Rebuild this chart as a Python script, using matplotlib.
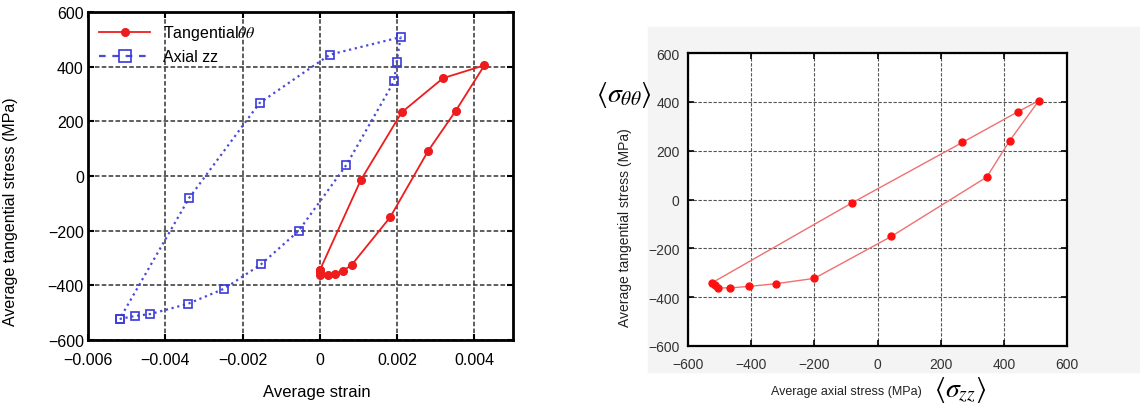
import matplotlib.pyplot as plt
from matplotlib.patches import Rectangle

plt.rcParams['font.family'] = ['Liberation Sans', 'DejaVu Sans']
plt.rcParams['mathtext.fontset'] = 'stix'

# loop points, same order in every array
axial_strain = [-0.00518, -0.00478, -0.00439, -0.00342, -0.00247, -0.00152, -0.00055,
                0.00069, 0.00192, 0.00199, 0.00209, 0.00026, -0.00156, -0.00338]
axial_stress = [-523, -512, -505, -468, -412, -323, -201,
                41, 346, 417, 508, 444, 267, -80]
tang_strain = [0.0, 0.0, 0.0, 0.0002, 0.0004, 0.00061, 0.00082,
               0.00182, 0.0028, 0.00352, 0.00426, 0.00319, 0.00212, 0.00106]
tang_stress = [-345, -352, -362, -362, -358, -346, -326,
               -151, 91, 239, 405, 358, 233, -15]

# right plot
rz = [-525, -514, -506, -466, -408, -322, -200, 44, 346, 418, 511, 444, 269, -81]
rt = [-342, -349, -362, -362, -356, -345, -323, -151, 92, 240, 405, 359, 234, -14]

W, H = 1140, 406
fig = plt.figure(figsize=(W/100, H/100), dpi=100)

def box(l, t, r, b):
    return [l/W, 1 - b/H, (r - l)/W, (b - t)/H]

# grey backdrop of the right panel
fig.patches.append(Rectangle((648/W, 1 - 373/H), (W - 648)/W, (373 - 28)/H,
                             transform=fig.transFigure, color='#f4f4f4', zorder=-1))

# ---- left: stress vs strain
ax = fig.add_axes(box(88, 13, 513, 341))
close = lambda a: a + a[:1]
ax.plot(close(tang_strain), close(tang_stress), '-o', color='#ee1c1c', lw=1.3, ms=5.5,
        label=r'Tangential$\theta\theta$', zorder=3)
ax.plot(close(axial_strain), close(axial_stress), ':', color='#4a4ad8', lw=1.6,
        marker='s', ms=6, mfc='none', mec='#3a3ad8', mew=1.2, zorder=3)
ax.plot([], [], color='#4a4ad8', ls=(0, (3, 3)), lw=1.6, marker='s', ms=8, mfc='none',
        mec='#3a3ad8', mew=1.2, label='Axial zz')
ax.set_xlim(-0.006, 0.005)
ax.set_ylim(-600, 600)
ax.set_xticks([-0.006, -0.004, -0.002, 0, 0.002, 0.004])
ax.set_xticklabels(['\u22120.006', '\u22120.004', '\u22120.002', '0', '0.002', '0.004'])
ax.set_yticks(range(-600, 601, 200))
ax.grid(True, color='#333333', ls=(0, (3, 1.5)), lw=1.1)
ax.tick_params(direction='in', length=4, width=1.5, labelsize=11.5, right=True, top=True,
               pad=3)
ax.tick_params(axis='x', pad=9)
for s in ax.spines.values():
    s.set_linewidth(2)
ax.set_xlabel('Average strain', fontsize=12)
ax.xaxis.set_label_coords(0.539, -0.135)
ax.set_ylabel('Average tangential stress (MPa)', fontsize=11.5)
ax.yaxis.set_label_coords(-0.165, 0.393)
leg = ax.legend(loc='upper left', frameon=False, fontsize=11.5, handlelength=3.2,
                borderaxespad=0.3, labelspacing=0.45)

# ---- right: tangential vs axial stress
ax2 = fig.add_axes(box(688, 54, 1067, 347))
ax2.set_facecolor('white')
ax2.plot(close(rz), close(rt), '-', color='#f07070', lw=1, zorder=2)
ax2.plot(rz, rt, 'o', color='#ff1010', ms=5, zorder=3)
ax2.set_xlim(-600, 600)
ax2.set_ylim(-600, 600)
ax2.set_xticks(range(-600, 601, 200))
ax2.set_yticks(range(-600, 601, 200))
ax2.grid(True, color='#555555', ls=(0, (3, 1.5)), lw=0.8)
ax2.tick_params(direction='in', length=4, width=1.2, labelsize=10, labelcolor='#333333',
                top=True, right=True, pad=6)
ax2.tick_params(axis='x', pad=8)
for s in ax2.spines.values():
    s.set_linewidth(1.6)
ax2.set_ylabel('Average tangential stress (MPa)', fontsize=10, color='#222222')
ax2.yaxis.set_label_coords(-0.148, 0.406)
fig.text(846/W, 1 - 392/H, 'Average axial stress (MPa)', fontsize=9, ha='center',
         va='center', color='#222222')
fig.text(624/W, 1 - 95/H, r'$\langle\sigma_{\theta\theta}\rangle$', fontsize=20,
         ha='center', va='center')
fig.text(960/W, 1 - 390/H, r'$\langle\sigma_{zz}\rangle$', fontsize=20,
         ha='center', va='center')

fig.savefig('out.png', dpi=100)
